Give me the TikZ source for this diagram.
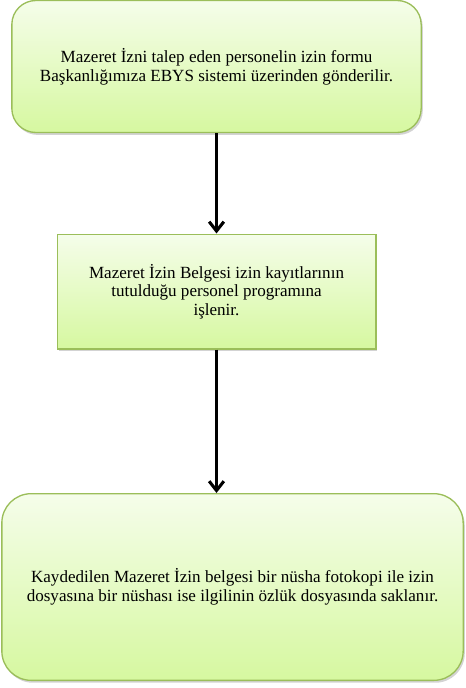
\documentclass[tikz,border=0pt]{standalone}
\usepackage{fontspec}
\setmainfont{Liberation Serif}
\usepackage{xcolor}
\usepackage{tikz}
\usetikzlibrary{arrows.meta,shadows}
\definecolor{kenar}{RGB}{155,190,90}
\definecolor{ustyesil}{RGB}{245,253,234}
\definecolor{altyesil}{RGB}{214,248,160}

\tikzset{
  adimkutu/.style={draw=kenar,line width=1pt,top color=ustyesil,bottom color=altyesil,
    align=center,font=\fontsize{12.8}{14}\selectfont,inner sep=0pt,
    drop shadow={shadow xshift=1.2pt,shadow yshift=-1.8pt,opacity=0.35}},
  akisok/.style={line width=2.3pt,-{Straight Barb[length=7pt,width=11pt,line width=2.3pt]}}
}

\begin{document}
\begin{tikzpicture}[x=0.75pt,y=-0.75pt]
\useasboundingbox (0,0) rectangle (465,688);
\node[adimkutu,rounded corners=18pt,minimum width=307pt,minimum height=99pt] (talep) at (216.5,66.5)
  {Mazeret İzni talep eden personelin izin formu\\Başkanlığımıza EBYS sistemi üzerinden gönderilir.};
\node[adimkutu,minimum width=239pt,minimum height=86pt] (islem) at (216.5,291.5)
  {Mazeret İzin Belgesi izin kayıtlarının\\tutulduğu personel programına\\işlenir.};
\node[adimkutu,rounded corners=22pt,minimum width=346pt,minimum height=140pt] (saklama) at (232.5,587)
  {Kaydedilen Mazeret İzin belgesi bir nüsha fotokopi ile izin\\dosyasına bir nüshası ise ilgilinin özlük dosyasında saklanır.};
\draw[akisok] (talep) -- (islem);
\draw[akisok] (islem.south) -- (islem.south |- saklama.north);
\end{tikzpicture}
\end{document}
